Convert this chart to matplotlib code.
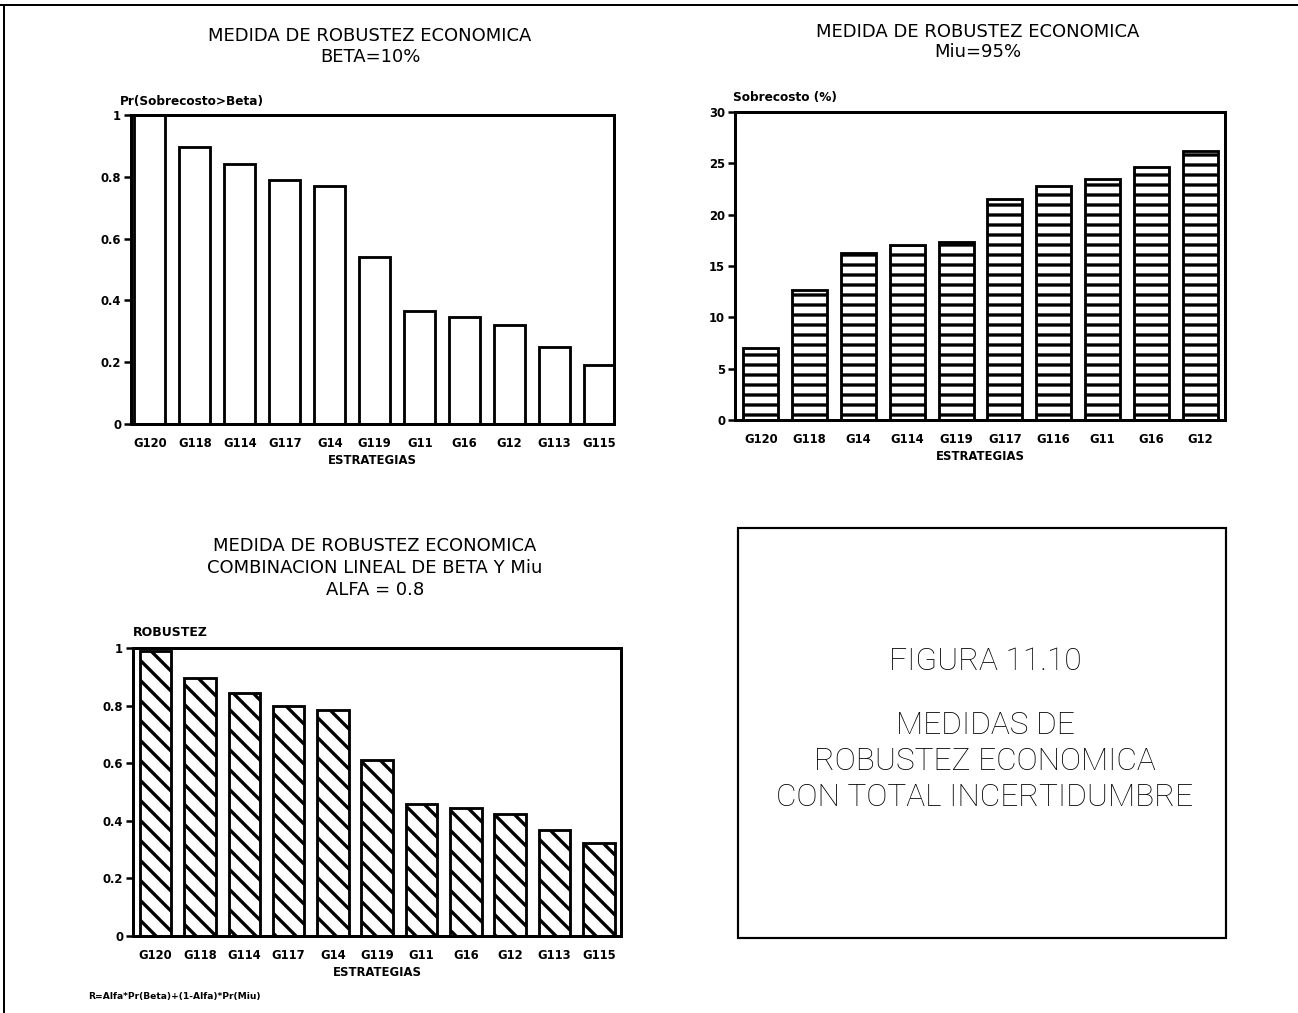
import matplotlib
matplotlib.use("Agg")
import matplotlib.pyplot as plt
from matplotlib.patches import Rectangle
from matplotlib.lines import Line2D

# --- data -------------------------------------------------------------
beta_strategies = ["G120", "G118", "G114", "G117", "G14", "G119",
                   "G11", "G16", "G12", "G113", "G115"]
beta_prob = [1.00, 0.895, 0.84, 0.79, 0.77, 0.54,
             0.365, 0.347, 0.32, 0.248, 0.19]

miu_strategies = ["G120", "G118", "G14", "G114", "G119",
                  "G117", "G116", "G11", "G16", "G12"]
miu_overcost = [7.0, 12.7, 16.3, 17.0, 17.3, 21.5, 22.8, 23.5, 24.6, 26.2]

comb_strategies = ["G120", "G118", "G114", "G117", "G14", "G119",
                   "G11", "G16", "G12", "G113", "G115"]
comb_robustness = [0.99, 0.895, 0.843, 0.80, 0.785, 0.61,
                   0.458, 0.443, 0.423, 0.368, 0.323]

beta_yticks = [0, 0.2, 0.4, 0.6, 0.8, 1]
beta_yticklabels = ["0", "0.2", "0.4", "0.6", "0.8", "1"]
miu_yticks = [0, 5, 10, 15, 20, 25, 30]

# --- figure -----------------------------------------------------------
W, H, DPI = 1298, 1013, 120
plt.rcParams["hatch.linewidth"] = 2.0
plt.rcParams["font.family"] = ["DejaVu Sans"]
fig = plt.figure(figsize=(W / DPI, H / DPI), dpi=DPI)
fig.patch.set_facecolor("white")


def px_axes(l, r, t, b):
    return fig.add_axes([l / W, 1 - b / H, (r - l) / W, (b - t) / H])


def style(ax, yticks, ylabels, ylim):
    for s in ax.spines.values():
        s.set_linewidth(1.8)
    ax.set_ylim(*ylim)
    ax.set_yticks(yticks)
    ax.set_yticklabels(ylabels)
    ax.tick_params(axis="y", direction="out", length=4, width=1.5,
                   labelsize=7, pad=2)
    ax.tick_params(axis="x", length=0, labelsize=7, pad=8)
    for lab in ax.get_xticklabels() + ax.get_yticklabels():
        lab.set_fontweight("bold")
    ax.set_xlabel("ESTRATEGIAS", fontsize=7, fontweight="bold", labelpad=2)


bar_kw = dict(color="white", edgecolor="black", linewidth=1.7)
title_kw = dict(fontsize=10.8, ha="center", va="center")

# Panel 1: probability of overcost above beta
ax1 = px_axes(131, 614, 115, 424)
x1 = range(len(beta_strategies))
ax1.bar(x1, beta_prob, width=0.69, **bar_kw)
ax1.set_xlim(-0.42, 10.32)
ax1.set_xticks(list(x1))
ax1.set_xticklabels(beta_strategies)
style(ax1, beta_yticks, beta_yticklabels, (0, 1))
fig.text(120 / W, 1 - 102 / H, "Pr(Sobrecosto>Beta)", fontsize=7.3,
         fontweight="bold", ha="left", va="center")
fig.text(370 / W, 1 - 36 / H, "MEDIDA DE ROBUSTEZ ECONOMICA", **title_kw)
fig.text(370 / W, 1 - 57 / H, "BETA=10%", **title_kw)

# Panel 2: overcost at the 95% level
ax2 = px_axes(735, 1225, 112, 420)
x2 = range(len(miu_strategies))
ax2.bar(x2, miu_overcost, width=0.72, hatch="--", **bar_kw)
ax2.set_xlim(-0.53, 9.51)
ax2.set_xticks(list(x2))
ax2.set_xticklabels(miu_strategies)
style(ax2, miu_yticks, [str(v) for v in miu_yticks], (0, 30))
fig.text(733 / W, 1 - 97 / H, "Sobrecosto (%)", fontsize=7.3,
         fontweight="bold", ha="left", va="center")
fig.text(978 / W, 1 - 32 / H, "MEDIDA DE ROBUSTEZ ECONOMICA", **title_kw)
fig.text(978 / W, 1 - 52 / H, "Miu=95%", **title_kw)

# Panel 3: linear combination of both measures
ax3 = px_axes(133, 621, 648, 936)
x3 = range(len(comb_strategies))
ax3.bar(x3, comb_robustness, width=0.71, hatch="\\\\", **bar_kw)
ax3.set_xlim(-0.51, 10.5)
ax3.set_xticks(list(x3))
ax3.set_xticklabels(comb_strategies)
style(ax3, beta_yticks, beta_yticklabels, (0, 1))
fig.text(133 / W, 1 - 632 / H, "ROBUSTEZ", fontsize=7.5,
         fontweight="bold", ha="left", va="center")
for txt, y in [("MEDIDA DE ROBUSTEZ ECONOMICA", 546),
               ("COMBINACION LINEAL DE BETA Y Miu", 568),
               ("ALFA = 0.8", 590)]:
    fig.text(375 / W, 1 - y / H, txt, **title_kw)
fig.text(88 / W, 1 - 996 / H, "R=Alfa*Pr(Beta)+(1-Alfa)*Pr(Miu)",
         fontsize=5.5, fontweight="bold", ha="left", va="center")

# Caption box
fig.add_artist(Rectangle((738 / W, 1 - 938 / H), (1226 - 738) / W,
                         (938 - 528) / H, transform=fig.transFigure,
                         fill=False, edgecolor="black", linewidth=1.3))
cap_font = dict(fontsize=19, ha="center", va="center", color="black",
                family=["Roboto", "DejaVu Sans"], fontweight="light")
fig.text(985 / W, 1 - 662 / H, "FIGURA 11.10", **cap_font)
for txt, y in [("MEDIDAS DE", 725), ("ROBUSTEZ ECONOMICA", 762),
               ("CON TOTAL INCERTIDUMBRE", 798)]:
    fig.text(985 / W, 1 - y / H, txt, **cap_font)

# Page frame (top and left edges)
fig.add_artist(Line2D([0, 1], [1 - 5 / H, 1 - 5 / H],
                      transform=fig.transFigure, color="black", linewidth=1.2))
fig.add_artist(Line2D([4 / W, 4 / W], [0, 1 - 5 / H],
                      transform=fig.transFigure, color="black", linewidth=1.2))

fig.savefig("out.png", dpi=DPI, facecolor="white")
